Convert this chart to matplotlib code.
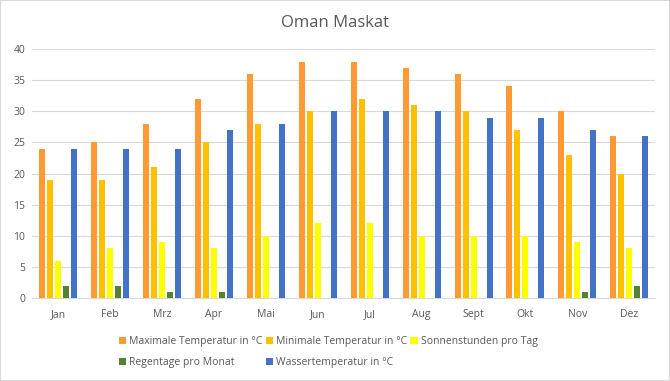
import matplotlib

matplotlib.use("Agg")
import matplotlib.pyplot as plt
import numpy as np
from matplotlib.patches import Rectangle

months = ["Jan", "Feb", "Mrz", "Apr", "Mai", "Jun", "Jul", "Aug", "Sept", "Okt", "Nov", "Dez"]
max_temp = [24, 25, 28, 32, 36, 38, 38, 37, 36, 34, 30, 26]
min_temp = [19, 19, 21, 25, 28, 30, 32, 31, 30, 27, 23, 20]
sun_hours = [6, 8, 9, 8, 10, 12, 12, 10, 10, 10, 9, 8]
rain_days = [2, 2, 1, 1, 0, 0, 0, 0, 0, 0, 1, 2]
water_temp = [24, 24, 24, 27, 28, 30, 30, 30, 29, 29, 27, 26]

series = [
    ("Maximale Temperatur in °C", max_temp, "#FF9933"),
    ("Minimale Temperatur in °C", min_temp, "#FFC000"),
    ("Sonnenstunden pro Tag", sun_hours, "#FFFF00"),
    ("Regentage pro Monat", rain_days, "#548235"),
    ("Wassertemperatur in °C", water_temp, "#4472C4"),
]

plt.rcParams["font.family"] = ["Open Sans", "DejaVu Sans"]
text_color = "#595959"

fig = plt.figure(figsize=(6.7, 3.81), dpi=100)
ax = fig.add_axes([0.048, 0.218, 0.93, 0.653])

x = np.arange(len(months))
step = 0.154
width = 0.115
handles = []
for i, (label, values, color) in enumerate(series):
    h = ax.bar(x + (i - 2) * step, values, width=width, color=color, label=label, zorder=3)
    handles.append(h)

ax.set_xlim(-0.5, len(months) - 0.5)
ax.set_ylim(0, 40)
ax.set_yticks(range(0, 41, 5))
ax.set_xticks(x)
ax.set_xticklabels(months)
ax.tick_params(axis="both", length=0, labelsize=7.5, colors=text_color)
ax.tick_params(axis="x", pad=8)
ax.tick_params(axis="y", pad=5)
ax.grid(axis="y", color="#D9D9D9", linewidth=0.8, zorder=0)
for side in ["top", "right", "left"]:
    ax.spines[side].set_visible(False)
ax.spines["bottom"].set_color("#D9D9D9")

fig.text(0.5, 0.94, "Oman Maskat", ha="center", va="center", fontsize=12, color=text_color)

# column-major order so rows read left to right like the original
order = [0, 3, 1, 4, 2]
fig.legend(
    [handles[i] for i in order],
    [series[i][0] for i in order],
    ncol=3,
    loc="center",
    bbox_to_anchor=(0.49, 0.076),
    frameon=False,
    fontsize=7.5,
    labelcolor=text_color,
    handlelength=0.7,
    handleheight=0.7,
    handletextpad=0.3,
    columnspacing=0.3,
    labelspacing=1.0,
)

fig.patches.append(Rectangle((0, 0), 1, 1, transform=fig.transFigure, fill=False,
                             edgecolor="#D9D9D9", linewidth=1.5))

fig.savefig("out.png", dpi=100)
plt.close(fig)
